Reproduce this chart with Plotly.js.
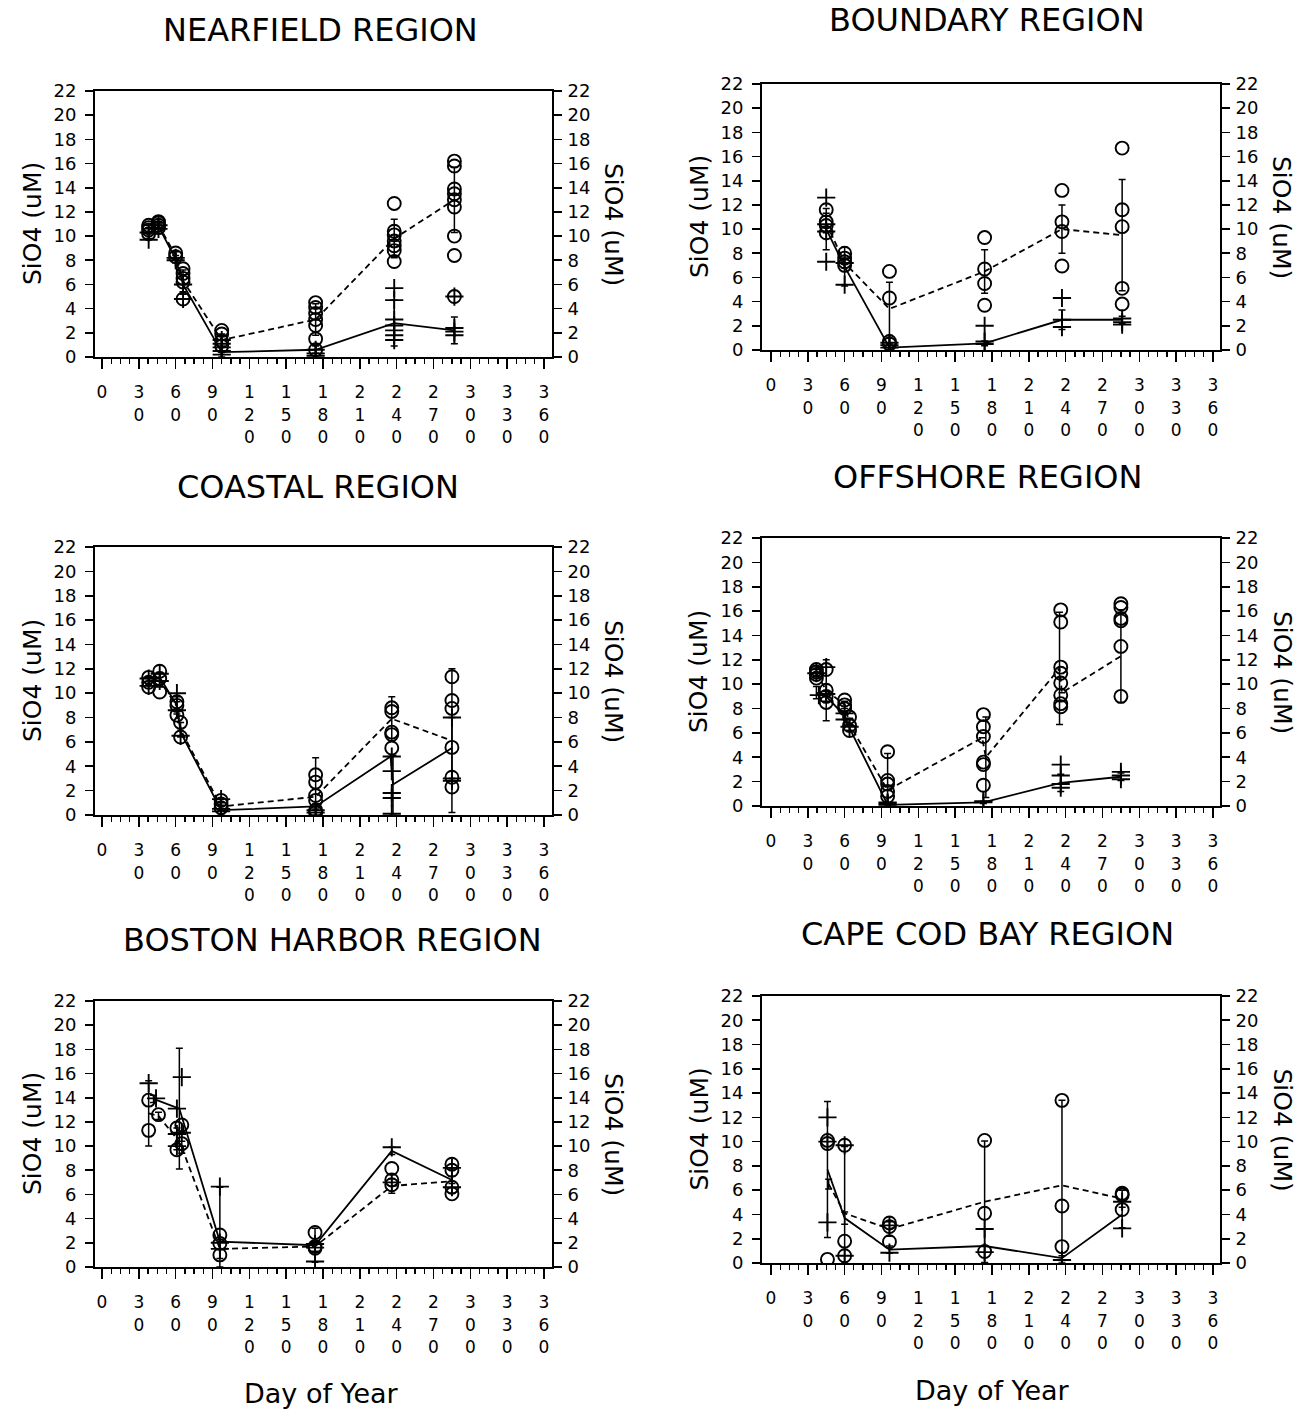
<!DOCTYPE html>
<html>
<head>
<meta charset="utf-8">
<script src="https://cdn.plot.ly/plotly-3.0.1.min.js"></script>
<style>
  html, body { margin: 0; padding: 0; background: #fff; }
  #chart { width: 1308px; height: 1411px; }
</style>
</head>
<body>
<div id="chart"></div>
<script>
// ---------------------------------------------------------------
// Silicate (SiO4, uM) by day of year for six survey regions.
// Circles = surface samples (dashed line = surface mean +/- SD),
// crosses = bottom samples (solid line = bottom mean +/- SD).
// ---------------------------------------------------------------

const dayTicks = [0, 30, 60, 90, 120, 150, 180, 210, 240, 270, 300, 330, 360];
const sioTicks = [0, 2, 4, 6, 8, 10, 12, 14, 16, 18, 20, 22];

// ---- Nearfield ----
const nfSurfDay = [38,38,38,38, 46,46,46,46, 60,60, 66,66,66,66,66, 97.5,97.5,97.5,97.5,
                   174,174,174,174,174,174,174, 238,238,238,238,238,238,238,
                   287,287,287,287,287,287,287,287,287];
const nfSurfVal = [10.2,10.5,10.7,10.9, 10.7,10.9,11.1,11.2, 8.3,8.6, 7.3,6.9,6.5,6.2,4.8, 2.2,1.9,1.3,0.9,
                   4.5,4.1,3.6,3.1,2.6,1.5,0.6, 12.7,10.4,10.1,9.6,9.2,8.8,7.9,
                   16.2,15.8,13.9,13.5,13.0,12.4,10.0,8.4,5.0];
const nfBotDay = [38,38, 46,46, 60,60, 66,66, 97.5,97.5,97.5,97.5,97.5, 174,174,174,
                  238,238,238,238,238,238,238, 287,287,287,287];
const nfBotVal = [9.7,10.3, 10.6,10.9, 8.2,8.0, 6.0,4.8, 0.2,0.5,0.8,1.1,1.4, 0.1,0.3,0.6,
                  5.7,4.7,3.1,2.6,2.2,1.8,1.4, 5.0,2.4,2.1,1.8];
const nfSurfMeanDay = [38, 46, 60, 66, 97.5, 174, 238, 287];
const nfSurfMean    = [10.6, 10.9, 8.4, 6.3, 1.4, 3.1, 9.8, 13.0];
const nfSurfSD      = [0.3, 0.2, 0.3, 0.9, 0.5, 1.3, 1.6, 2.7];
const nfBotMeanDay  = [38, 46, 60, 66, 97.5, 174, 238, 287];
const nfBotMean     = [10.2, 10.8, 8.1, 6.0, 0.4, 0.6, 2.8, 2.2];
const nfBotSD       = [0.4, 0.2, 0.3, 0.8, 0.4, 0.3, 1.9, 1.1];

// ---- Boundary ----
const bdSurfDay = [45,45,45,45, 60,60,60,60, 96.5,96.5,96.5,96.5, 174,174,174,174,
                   237,237,237,237, 286,286,286,286,286];
const bdSurfVal = [11.6,10.6,10.3,9.7, 8.0,7.6,7.3,7.0, 6.5,4.3,0.7,0.5, 9.3,6.7,5.5,3.7,
                   13.2,10.6,9.8,6.95, 16.7,11.6,10.2,5.1,3.8];
const bdBotDay = [45,45,45,45, 60,60, 96.5,96.5,96.5, 174,174,174, 237,237,237, 286,286,286];
const bdBotVal = [12.6,10.4,9.8,7.3, 7.2,5.4, 0.2,0.4,0.6, 2.0,0.5,0.7, 4.3,2.5,1.9, 2.6,2.3,2.1];
const bdSurfMeanDay = [45, 60, 96.5, 174, 237, 286];
const bdSurfMean    = [10.5, 7.2, 3.4, 6.5, 10.0, 9.5];
const bdSurfSD      = [0.8, 0.4, 2.2, 1.8, 2.0, 4.6];
const bdBotMeanDay  = [45, 60, 96.5, 174, 237, 286];
const bdBotMean     = [10.0, 6.9, 0.2, 0.55, 2.5, 2.5];
const bdBotSD       = [1.7, 1.6, 0.3, 0.2, 0.8, 0.3];

// ---- Coastal ----
const coSurfDay = [38,38,38, 47,47,47, 61,61,61, 64,64, 97,97,97, 174,174,174,174,174,174,
                   236,236,236,236,236, 285,285,285,285,285,285];
const coSurfVal = [11.3,10.9,10.5, 11.8,11.2,10.1, 9.3,9.0,8.2, 7.6,6.4, 1.2,0.9,0.6, 3.3,2.7,1.6,1.2,0.4,0.2,
                   8.8,8.5,6.8,6.6,5.5, 11.35,9.4,8.75,5.55,3.1,2.3];
const coBotDay = [38,38, 47,47, 61,61, 64, 97,97,97, 174,174, 236,236,236,236,236, 285,285,285];
const coBotVal = [11.2,10.6, 11.6,11.0, 10.0,8.6, 6.5, 0.3,0.5,1.3, 0.2,0.4, 4.8,3.6,1.8,1.4,0.1, 8.0,3.0,2.8];
const coSurfMeanDay = [38, 47, 61, 64, 97, 174, 236, 285];
const coSurfMean    = [11.0, 11.1, 8.9, 7.0, 0.7, 1.5, 7.9, 6.1];
const coSurfSD      = [0.3, 0.6, 0.4, 0.6, 0.3, 3.2, 1.8, 5.9];
const coBotMeanDay  = [38, 47, 61, 64, 97, 174, 235, 237, 285];
const coBotMean     = [10.9, 11.3, 9.0, 6.8, 0.4, 0.7, 4.8, 2.5, 5.5];
const coBotSD       = [0.3, 0.3, 0.7, 0.3, 0.4, 0.2, 0, 2.4, 2.5];

// ---- Offshore ----
const ofSurfDay = [37,37,37,37, 45,45,45,45, 60,60,60, 64,64,64, 95,95,95,95,95,
                   173,173,173,173,173,173, 236,236,236,236,236,236,236,236, 285,285,285,285,285,285];
const ofSurfVal = [11.2,11.0,10.8,10.5, 11.2,9.5,9.0,8.5, 8.7,8.3,8.0, 7.3,6.6,6.2, 4.45,2.1,1.8,1.2,0.8,
                   7.5,6.5,5.7,3.6,3.4,1.7, 16.1,15.1,11.4,10.9,10.1,9.1,8.4,8.15, 16.6,16.3,15.4,15.2,13.1,9.0];
const ofBotDay = [39,37, 45,45, 60,60, 64, 95,95,95, 173,173, 236,236,236,236, 285,285,285];
const ofBotVal = [9.1,10.9, 9.2,11.4, 7.1,7.6, 6.5, 0.1,0.2,0.3, 0.3,0.4, 3.4,2.5,1.8,1.5, 2.8,2.5,2.2];
const ofSurfMeanDay = [37, 45, 60, 64, 95, 172, 175, 235, 237, 285];
const ofSurfMean    = [10.9, 9.5, 8.3, 6.7, 1.3, 5.6, 4.0, 11.3, 9.3, 12.3];
const ofSurfSD      = [0.3, 2.5, 0.3, 0.5, 3.0, 0, 3.3, 4.6, 0, 3.8];
const ofBotMeanDay  = [37, 45, 60, 64, 95, 173, 236, 285];
const ofBotMean     = [9.3, 9.0, 7.4, 6.4, 0.1, 0.3, 1.9, 2.4];
const ofBotSD       = [0.5, 0.4, 0.3, 0.2, 0.1, 0.1, 0.7, 0.3];

// ---- Boston Harbor ----
const bhSurfDay = [38,38, 46, 61,61, 65,65, 96,96,96, 173.5,173.5,173.5, 236,236,236, 285,285,285,285];
const bhSurfVal = [13.8,11.3, 12.6, 11.5,9.7, 11.75,10.2, 2.65,1.95,1.0, 2.85,1.55,1.7, 8.15,7.2,6.8, 8.5,8.0,6.6,6.05];
const bhBotDay = [38, 44, 61,61,61, 65,65, 96,96,96, 173.5,173.5,173.5, 236,236, 285,285];
const bhBotVal = [15.2, 13.95, 13.1,11.0,10.0, 15.7,11.1, 6.65,2.0,1.5, 1.9,1.6,0.45, 9.9,7.0, 8.2,6.6];
const bhSurfMeanDay = [38, 46, 61, 65, 96, 173.5, 236, 285];
const bhSurfMean    = [12.7, 12.5, 10.6, 9.9, 1.5, 1.7, 6.7, 7.1];
const bhSurfSD      = [2.7, 0.3, 0.9, 0.5, 0.8, 0.4, 0.6, 1.0];
const bhBotMeanDay  = [42, 63, 96, 173.5, 236, 285];
const bhBotMean     = [13.9, 13.1, 2.1, 1.8, 9.6, 7.2];
const bhBotSD       = [0.3, 5.0, 4.5, 1.4, 0.3, 0.3];

// ---- Cape Cod Bay ----
const ccSurfDay = [46,46,46, 60,60,60, 96.5,96.5,96.5, 174,174,174, 237,237,237, 286,286,286];
const ccSurfVal = [10.1,9.85,0.3, 9.7,1.8,0.6, 3.3,3.0,1.75, 10.1,4.1,0.95, 13.4,4.7,1.35, 5.75,5.6,4.4];
const ccBotDay = [46,46,46, 60,60, 96.5,96.5, 174,174, 237, 286,286];
const ccBotVal = [10.0,12.0,3.35, 9.7,0.6, 3.1,0.85, 2.8,0.9, 0.25, 5.05,2.85];
const ccSurfMeanDay = [47, 60, 96.5, 174, 237, 286];
const ccSurfMean    = [6.5, 4.1, 2.8, 5.05, 6.4, 5.3];
const ccSurfSD      = [0.4, 5.5, 0.6, 5.0, 7.0, 0.7];
const ccBotMeanDay  = [46, 60, 96.5, 174, 237, 286];
const ccBotMean     = [7.7, 3.7, 1.1, 1.4, 0.4, 4.0];
const ccBotSD       = [5.6, 0.5, 0.3, 1.4, 0.2, 1.1];

// ---------------------------------------------------------------
// Figure geometry (pixels in a 1308 x 1411 page)
// ---------------------------------------------------------------
const W = 1308, H = 1411;
const FONT = 'DejaVu Sans, Liberation Sans, sans-serif';

const panels = [
  { title: 'NEARFIELD REGION',     tx: 320, ty: 30,  left: 95,  right: 552,  top: 91,  bottom: 357, xr: [-5.7, 366.5],
    sd: nfSurfDay, sv: nfSurfVal, bd: nfBotDay, bv: nfBotVal,
    smd: nfSurfMeanDay, sm: nfSurfMean, ss: nfSurfSD, bmd: nfBotMeanDay, bm: nfBotMean, bs: nfBotSD },
  { title: 'BOUNDARY REGION',      tx: 987, ty: 20,  left: 762, right: 1220, top: 84,  bottom: 350, xr: [-7.3, 365.7],
    sd: bdSurfDay, sv: bdSurfVal, bd: bdBotDay, bv: bdBotVal,
    smd: bdSurfMeanDay, sm: bdSurfMean, ss: bdSurfSD, bmd: bdBotMeanDay, bm: bdBotMean, bs: bdBotSD },
  { title: 'COASTAL REGION',       tx: 318, ty: 487, left: 95,  right: 552,  top: 547, bottom: 815, xr: [-5.7, 366.5],
    sd: coSurfDay, sv: coSurfVal, bd: coBotDay, bv: coBotVal,
    smd: coSurfMeanDay, sm: coSurfMean, ss: coSurfSD, bmd: coBotMeanDay, bm: coBotMean, bs: coBotSD },
  { title: 'OFFSHORE REGION',      tx: 987, ty: 477, left: 762, right: 1220, top: 538, bottom: 806, xr: [-7.3, 365.7],
    sd: ofSurfDay, sv: ofSurfVal, bd: ofBotDay, bv: ofBotVal,
    smd: ofSurfMeanDay, sm: ofSurfMean, ss: ofSurfSD, bmd: ofBotMeanDay, bm: ofBotMean, bs: ofBotSD },
  { title: 'BOSTON HARBOR REGION', tx: 333, ty: 940, left: 95,  right: 552,  top: 1001, bottom: 1267, xr: [-5.7, 366.5],
    sd: bhSurfDay, sv: bhSurfVal, bd: bhBotDay, bv: bhBotVal,
    smd: bhSurfMeanDay, sm: bhSurfMean, ss: bhSurfSD, bmd: bhBotMeanDay, bm: bhBotMean, bs: bhBotSD },
  { title: 'CAPE COD BAY REGION',  tx: 987, ty: 934, left: 762, right: 1220, top: 996, bottom: 1263, xr: [-7.3, 365.7],
    sd: ccSurfDay, sv: ccSurfVal, bd: ccBotDay, bv: ccBotVal,
    smd: ccSurfMeanDay, sm: ccSurfMean, ss: ccSurfSD, bmd: ccBotMeanDay, bm: ccBotMean, bs: ccBotSD }
];

const px = x => x / W;
const py = y => 1 - y / H;

// Tick labels: digits stacked one above the other
const dayTickText = dayTicks.map(v => String(v).split('').join('<br>'));

const yTickFont = { family: FONT, size: 18, color: '#000' };
const xTickFont = { family: FONT, size: 17, color: '#000' };

const traces = [];
const layout = {
  width: W, height: H,
  margin: { l: 0, r: 0, t: 0, b: 0 },
  paper_bgcolor: '#fff', plot_bgcolor: '#fff',
  showlegend: false,
  font: { family: FONT, color: '#000' },
  annotations: []
};

function errBar(sd, mean) {
  return {
    type: 'data', symmetric: false,
    array: sd, arrayminus: sd.map((s, k) => Math.min(s, mean[k])),
    color: '#000', thickness: 1.5, width: 3.5
  };
}

panels.forEach((p, i) => {
  const n = i + 1;
  const xKey = n === 1 ? 'xaxis' : 'xaxis' + n;
  const xRef = n === 1 ? 'x' : 'x' + n;
  const yL = 2 * n - 1, yR = 2 * n;
  const yLKey = yL === 1 ? 'yaxis' : 'yaxis' + yL;
  const yLRef = yL === 1 ? 'y' : 'y' + yL;
  const yRKey = 'yaxis' + yR;
  const yRRef = 'y' + yR;

  layout[xKey] = {
    domain: [px(p.left), px(p.right)],
    anchor: yLRef,
    range: p.xr,
    tickmode: 'array', tickvals: dayTicks, ticktext: dayTickText,
    ticks: 'outside', ticklen: 10, tickwidth: 1.6, tickcolor: '#000',
    minor: { tick0: 0, dtick: 7.5, ticks: 'outside', ticklen: 5, tickwidth: 1.3, tickcolor: '#000' },
    ticklabelstandoff: 9,
    tickfont: xTickFont, tickangle: 0,
    showline: true, linewidth: 2, linecolor: '#000', mirror: true,
    showgrid: false, zeroline: false, fixedrange: true
  };
  layout[yLKey] = {
    domain: [py(p.bottom), py(p.top)],
    anchor: xRef,
    range: [0, 22],
    tickmode: 'array', tickvals: sioTicks,
    ticks: 'outside', ticklen: 8, tickwidth: 1.6, tickcolor: '#000',
    ticklabelstandoff: 5,
    tickfont: yTickFont,
    showline: true, linewidth: 2, linecolor: '#000',
    showgrid: false, zeroline: false, fixedrange: true
  };
  layout[yRKey] = {
    overlaying: yLRef, side: 'right', anchor: xRef,
    range: [0, 22],
    tickmode: 'array', tickvals: sioTicks,
    ticks: 'outside', ticklen: 8, tickwidth: 1.6, tickcolor: '#000',
    ticklabelstandoff: 2,
    tickfont: yTickFont,
    showline: true, linewidth: 2, linecolor: '#000',
    showgrid: false, zeroline: false, fixedrange: true
  };

  // surface mean (dashed) with SD bars
  traces.push({
    x: p.smd, y: p.sm, xaxis: xRef, yaxis: yLRef,
    mode: 'lines', line: { color: '#000', width: 1.8, dash: '6px,4px' },
    error_y: errBar(p.ss, p.sm), hoverinfo: 'skip'
  });
  // bottom mean (solid) with SD bars
  traces.push({
    x: p.bmd, y: p.bm, xaxis: xRef, yaxis: yLRef,
    mode: 'lines', line: { color: '#000', width: 1.8 },
    error_y: errBar(p.bs, p.bm), hoverinfo: 'skip'
  });
  // surface samples
  traces.push({
    x: p.sd, y: p.sv, xaxis: xRef, yaxis: yLRef,
    mode: 'markers',
    marker: { symbol: 'circle-open', size: 13, color: '#000', line: { width: 1.9, color: '#000' } }
  });
  // bottom samples (on the right-hand axis, identical scale)
  traces.push({
    x: p.bd, y: p.bv, xaxis: xRef, yaxis: yRRef,
    mode: 'markers',
    marker: { symbol: 'cross-thin-open', size: 13, color: '#000', line: { width: 1.9, color: '#000' } }
  });

  // panel title
  layout.annotations.push({
    text: p.title, xref: 'paper', yref: 'paper', x: px(p.tx), y: py(p.ty),
    xanchor: 'center', yanchor: 'middle', showarrow: false,
    font: { family: FONT, size: 32, color: '#000' }
  });
  // axis titles
  const midY = py((p.top + p.bottom) / 2);
  layout.annotations.push({
    text: 'SiO4 (uM)', xref: 'paper', yref: 'paper', x: px(p.left - 63), y: midY,
    xanchor: 'center', yanchor: 'middle', textangle: -90, showarrow: false,
    font: { family: FONT, size: 25, color: '#000' }
  });
  layout.annotations.push({
    text: 'SiO4 (uM)', xref: 'paper', yref: 'paper', x: px(p.right + 62), y: midY,
    xanchor: 'center', yanchor: 'middle', textangle: 90, showarrow: false,
    font: { family: FONT, size: 25, color: '#000' }
  });
});

// x-axis titles under the bottom row
[[321, 1393], [993, 1390]].forEach(([x, y]) => {
  layout.annotations.push({
    text: 'Day of Year', xref: 'paper', yref: 'paper', x: px(x), y: py(y),
    xanchor: 'center', yanchor: 'middle', showarrow: false,
    font: { family: FONT, size: 27, color: '#000' }
  });
});

Plotly.newPlot('chart', traces, layout, { displayModeBar: false, staticPlot: true });
</script>
</body>
</html>
